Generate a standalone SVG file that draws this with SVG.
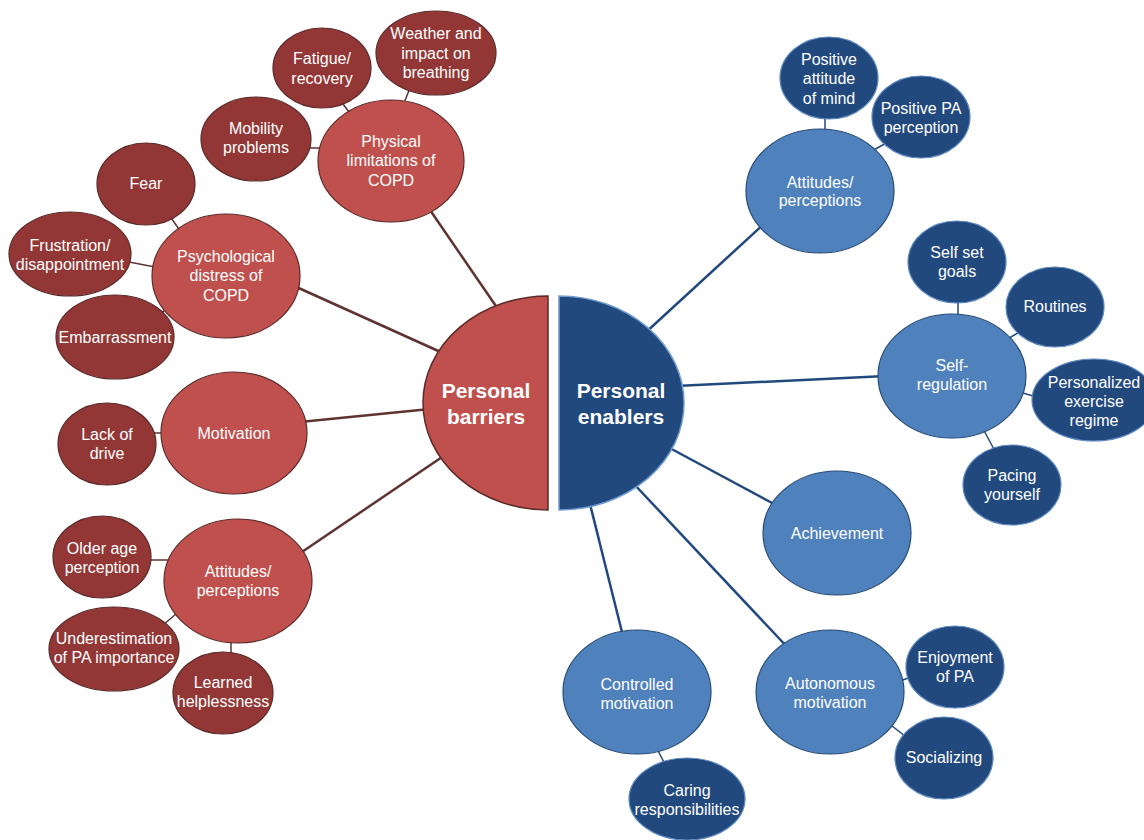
<svg xmlns="http://www.w3.org/2000/svg" width="1144" height="840" viewBox="0 0 1144 840">
<style>
text{font-family:"Liberation Sans",Arial,sans-serif;font-size:16px;fill:#ffffff;text-anchor:middle}
.title{font-size:21px;font-weight:bold}
.rmid{fill:#C0504D;stroke:#5B2A29;stroke-width:1.2}
.rsm{fill:#923736;stroke:#5B2A29;stroke-width:1.2}
.bmid{fill:#4F81BD;stroke:#274B76;stroke-width:1.2}
.bsm{fill:#22497E;stroke:#5C88BF;stroke-width:1.2}
.rl{stroke:#5E3332;stroke-width:2.5;fill:none}
.rls{stroke:#5E3332;stroke-width:1.5;fill:none}
.bl{stroke:#21497D;stroke-width:2.5;fill:none}
.bls{stroke:#21497D;stroke-width:1.5;fill:none}
</style>
<rect width="1144" height="840" fill="#ffffff"/>
<g id="connectors">
<line class="rl" x1="500" y1="312" x2="430" y2="210"/>
<line class="rl" x1="445" y1="354" x2="292" y2="285"/>
<line class="rl" x1="430" y1="409" x2="300" y2="422"/>
<line class="rl" x1="448" y1="453" x2="296" y2="556"/>
<line class="rls" x1="402" y1="108" x2="410" y2="88"/>
<line class="rls" x1="352" y1="116" x2="340" y2="100"/>
<line class="rls" x1="304" y1="148" x2="324" y2="148"/>
<line class="rls" x1="183" y1="235" x2="167" y2="212"/>
<line class="rls" x1="124" y1="261" x2="160" y2="268"/>
<line class="rls" x1="158" y1="316" x2="172" y2="304"/>
<line class="rls" x1="150" y1="433" x2="168" y2="433"/>
<line class="rls" x1="146" y1="560" x2="172" y2="560"/>
<line class="rls" x1="162" y1="626" x2="184" y2="607"/>
<line class="rls" x1="231" y1="637" x2="231" y2="658"/>
<line class="bl" x1="644" y1="334" x2="766" y2="222"/>
<line class="bl" x1="676" y1="386" x2="886" y2="376"/>
<line class="bl" x1="666" y1="446" x2="774" y2="504"/>
<line class="bl" x1="589" y1="500" x2="624" y2="640"/>
<line class="bl" x1="633" y1="483" x2="790" y2="650"/>
<line class="bls" x1="825" y1="112" x2="825" y2="136"/>
<line class="bls" x1="870" y1="152" x2="890" y2="141"/>
<line class="bls" x1="958" y1="296" x2="958" y2="320"/>
<line class="bls" x1="1004" y1="341" x2="1023" y2="330"/>
<line class="bls" x1="1016" y1="391" x2="1040" y2="398"/>
<line class="bls" x1="981" y1="425" x2="996" y2="453"/>
<line class="bls" x1="897" y1="682" x2="914" y2="676"/>
<line class="bls" x1="887" y1="722" x2="910" y2="740"/>
<line class="bls" x1="655" y1="745" x2="667" y2="768"/>
</g>
<g id="barriers">
<path d="M548,296 A125,107 0 0 0 548,510 Z" fill="#C0504D" stroke="#5B2A29" stroke-width="1.5"/>
<text class="title" x="486" y="398">Personal</text>
<text class="title" x="486" y="424">barriers</text>
</g>
<g id="enablers">
<path d="M559,296 A125,107 0 0 1 559,510 Z" fill="#21497D" stroke="#6E9BD1" stroke-width="1.5"/>
<text class="title" x="621" y="398">Personal</text>
<text class="title" x="621" y="424">enablers</text>
</g>
<g id="physical">
<ellipse class="rmid" cx="391" cy="161" rx="73" ry="61"/>
<text x="391" y="146.5">Physical</text>
<text x="391" y="166">limitations of</text>
<text x="391" y="185.5">COPD</text>
</g>
<g id="weather">
<ellipse class="rsm" cx="436" cy="53" rx="60" ry="42"/>
<text x="436" y="39">Weather and</text>
<text x="436" y="58.5">impact on</text>
<text x="436" y="78">breathing</text>
</g>
<g id="fatigue">
<ellipse class="rsm" cx="322" cy="68" rx="49" ry="40"/>
<text x="322" y="64">Fatigue/</text>
<text x="322" y="83.5">recovery</text>
</g>
<g id="mobility">
<ellipse class="rsm" cx="256" cy="139" rx="55" ry="42"/>
<text x="256" y="133.5">Mobility</text>
<text x="256" y="153">problems</text>
</g>
<g id="psych">
<ellipse class="rmid" cx="226" cy="276" rx="74" ry="62"/>
<text x="226" y="261.5">Psychological</text>
<text x="226" y="281">distress of</text>
<text x="226" y="300.5">COPD</text>
</g>
<g id="fear">
<ellipse class="rsm" cx="146" cy="184" rx="49" ry="41"/>
<text x="146" y="189">Fear</text>
</g>
<g id="frustration">
<ellipse class="rsm" cx="70" cy="254" rx="61" ry="42"/>
<text x="70" y="250.5">Frustration/</text>
<text x="70" y="270">disappointment</text>
</g>
<g id="embarrassment">
<ellipse class="rsm" cx="115" cy="337" rx="59" ry="42"/>
<text x="115" y="342.5">Embarrassment</text>
</g>
<g id="motivation">
<ellipse class="rmid" cx="234" cy="433" rx="73" ry="61"/>
<text x="234" y="438.5">Motivation</text>
</g>
<g id="lackdrive">
<ellipse class="rsm" cx="107" cy="444" rx="49" ry="41"/>
<text x="107" y="439.5">Lack of</text>
<text x="107" y="459">drive</text>
</g>
<g id="rattitudes">
<ellipse class="rmid" cx="238" cy="581" rx="74" ry="62"/>
<text x="238" y="576.5">Attitudes/</text>
<text x="238" y="596">perceptions</text>
</g>
<g id="olderage">
<ellipse class="rsm" cx="102" cy="557" rx="49" ry="41"/>
<text x="102" y="553.5">Older age</text>
<text x="102" y="573">perception</text>
</g>
<g id="underestimation">
<ellipse class="rsm" cx="114" cy="649" rx="65" ry="42"/>
<text x="114" y="643.5">Underestimation</text>
<text x="114" y="663">of PA importance</text>
</g>
<g id="learned">
<ellipse class="rsm" cx="223" cy="693" rx="50" ry="41"/>
<text x="223" y="687.5">Learned</text>
<text x="223" y="707">helplessness</text>
</g>
<g id="battitudes">
<ellipse class="bmid" cx="820" cy="191" rx="74" ry="62"/>
<text x="820" y="187.5">Attitudes/</text>
<text x="820" y="206">perceptions</text>
</g>
<g id="posmind">
<ellipse class="bsm" cx="829" cy="78" rx="49" ry="41"/>
<text x="829" y="64.5">Positive</text>
<text x="829" y="84">attitude</text>
<text x="829" y="103.5">of mind</text>
</g>
<g id="pospa">
<ellipse class="bsm" cx="921" cy="117" rx="49" ry="41"/>
<text x="921" y="113.5">Positive PA</text>
<text x="921" y="133">perception</text>
</g>
<g id="selfreg">
<ellipse class="bmid" cx="952" cy="376" rx="74" ry="62"/>
<text x="952" y="370.5">Self-</text>
<text x="952" y="390">regulation</text>
</g>
<g id="selfgoals">
<ellipse class="bsm" cx="957" cy="262" rx="49" ry="41"/>
<text x="957" y="257.5">Self set</text>
<text x="957" y="277">goals</text>
</g>
<g id="routines">
<ellipse class="bsm" cx="1055" cy="307" rx="49" ry="40"/>
<text x="1055" y="311.5">Routines</text>
</g>
<g id="personalized">
<ellipse class="bsm" cx="1094" cy="400" rx="62" ry="41"/>
<text x="1094" y="387.5">Personalized</text>
<text x="1094" y="406.5">exercise</text>
<text x="1094" y="426">regime</text>
</g>
<g id="pacing">
<ellipse class="bsm" cx="1012" cy="485" rx="49" ry="40"/>
<text x="1012" y="480.5">Pacing</text>
<text x="1012" y="499.5">yourself</text>
</g>
<g id="achievement">
<ellipse class="bmid" cx="837" cy="533" rx="74" ry="62"/>
<text x="837" y="538.5">Achievement</text>
</g>
<g id="controlled">
<ellipse class="bmid" cx="637" cy="692" rx="74" ry="62"/>
<text x="637" y="689.5">Controlled</text>
<text x="637" y="709">motivation</text>
</g>
<g id="caring">
<ellipse class="bsm" cx="687" cy="799" rx="58" ry="41"/>
<text x="687" y="795.5">Caring</text>
<text x="687" y="814.5">responsibilities</text>
</g>
<g id="autonomous">
<ellipse class="bmid" cx="830" cy="692" rx="74" ry="62"/>
<text x="830" y="688.5">Autonomous</text>
<text x="830" y="708">motivation</text>
</g>
<g id="enjoyment">
<ellipse class="bsm" cx="955" cy="667" rx="49" ry="41"/>
<text x="955" y="662.5">Enjoyment</text>
<text x="955" y="682">of PA</text>
</g>
<g id="socializing">
<ellipse class="bsm" cx="944" cy="758" rx="49" ry="41"/>
<text x="944" y="762.5">Socializing</text>
</g>
</svg>
